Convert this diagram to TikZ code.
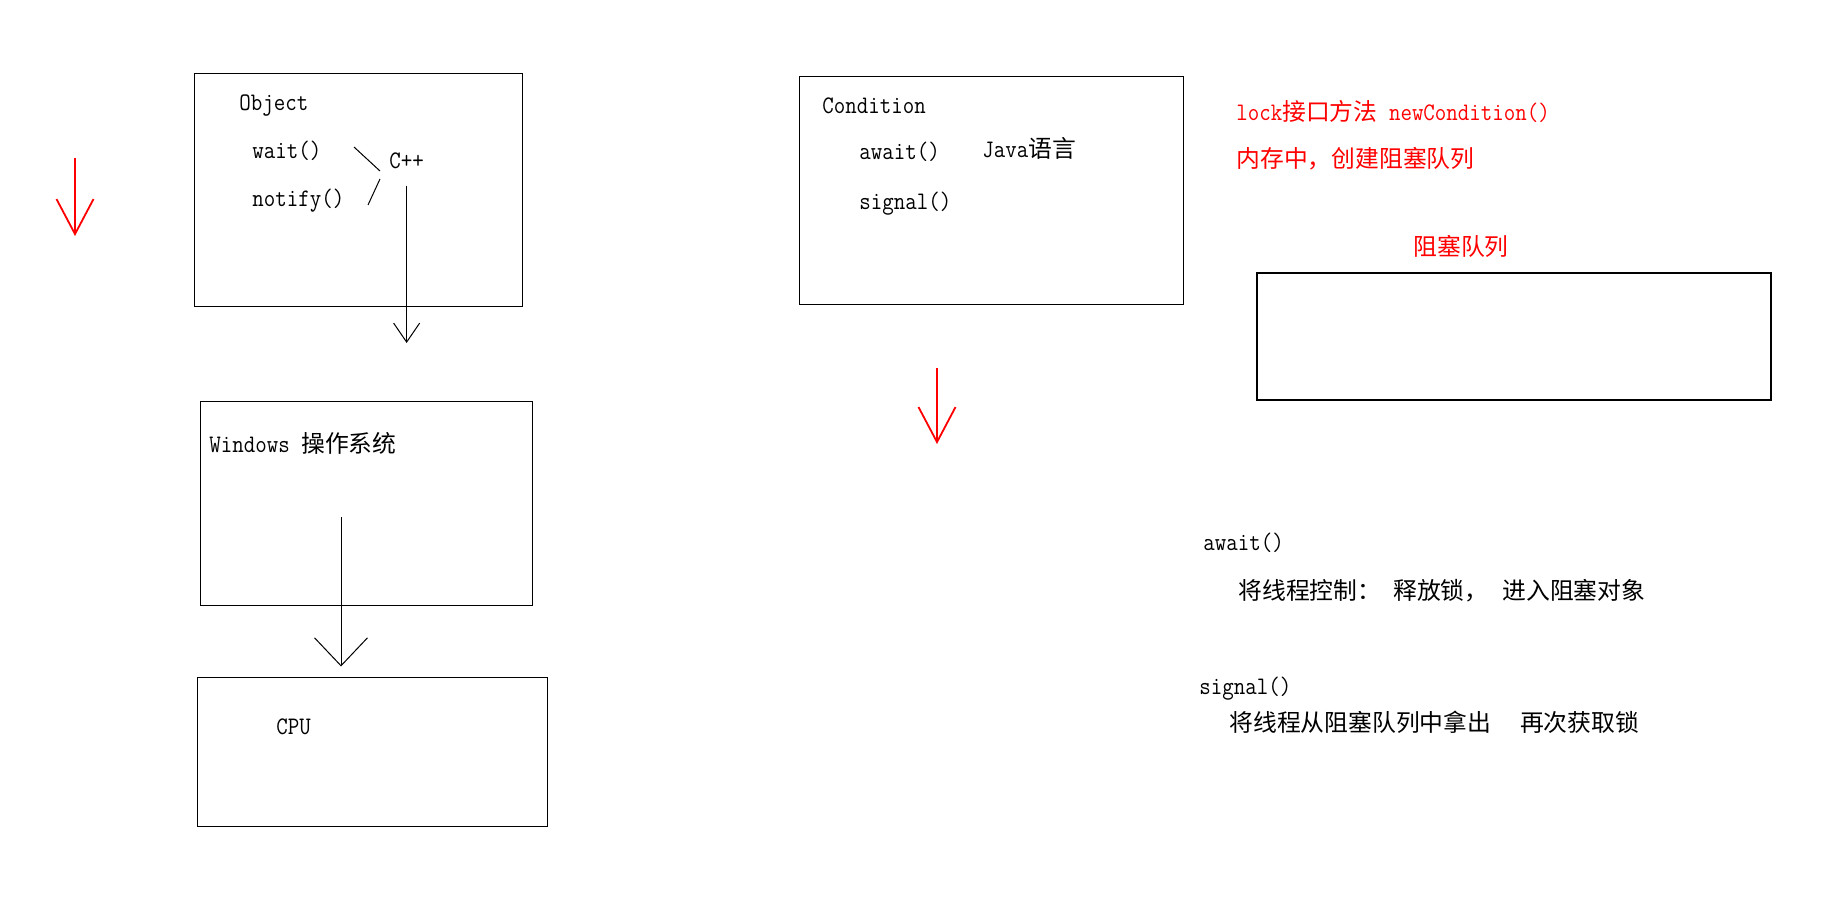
\documentclass[tikz,border=0pt]{standalone}
\usepackage{fontspec}
\setmainfont{Latin Modern Mono}[FakeStretch=0.885]
\newfontfamily\cjkfont{Noto Sans CJK SC}
\usepackage{tikz}
\usetikzlibrary{arrows.meta,positioning}
\definecolor{inkred}{RGB}{255,0,0}
\newcommand{\zh}[1]{{\fontsize{11.9}{14}\selectfont\cjkfont #1}}

\begin{document}
\begin{tikzpicture}[x=0.5pt, y=-0.5pt, font=\fontsize{12.6}{15}\selectfont,
  box/.style={draw, line width=0.5pt, inner sep=0pt},
  txt/.style={anchor=base west, inner sep=0pt},
  note/.style={txt, text=inkred},
  wire/.style={line width=0.5pt},
  redarrow/.style={draw=inkred, line width=0.9pt, -{Straight Barb[length=17.5pt,width=18.5pt]}}]
  \fill[white] (0,0) rectangle (1848,915);

  \node[box, minimum width=164pt, minimum height=116pt] (objbox) at (358,190) {};
  \node[txt] (objtitle) at (239,111) {Object};
  \node[txt] (wait) at (252,159) {wait()};
  \node[txt] (notify) at (252,206) {notify()};
  \node[txt] (cpp) at (389,169) {C++};

  \node[box, minimum width=166pt, minimum height=102pt] (osbox) at (366,503) {};
  \node[txt] (ostitle) at (209,452) {Windows \zh{操作系统}};

  \node[box, minimum width=175pt, minimum height=74.5pt] (cpubox) at (372,751.5) {};
  \node[txt] (cpu) at (276,734) {CPU};

  \node[box, minimum width=192pt, minimum height=113.5pt] (condbox) at (991,190.5) {};
  \node[txt] (condtitle) at (822,114) {Condition};
  \node[txt] (await) at (859,160) {await()};
  \node[txt] (java) at (982,158) {Java\zh{语言}};
  \node[txt] (signal) at (859,209) {signal()};

  \node[note] (locknote) at (1236,120) {lock\zh{接口方法} newCondition()};
  \node[note] (memnote) at (1236,168) {\zh{内存中，创建阻塞队列}};
  \node[note] (queuelabel) at (1413,255) {\zh{阻塞队列}};
  \node[box, line width=1.1pt, minimum width=257pt, minimum height=63.5pt] (queuebox) at (1514,336.5) {};

  \node[txt] (awaitnote) at (1203,550) {await()};
  \node[txt] (awaitdesc) at (1238,599) {\zh{将线程控制：\hspace{6pt}释放锁，\hspace{7pt}进入阻塞对象}};
  \node[txt] (signalnote) at (1199,694) {signal()};
  \node[txt] (signaldesc) at (1229,731) {\zh{将线程从阻塞队列中拿出\hspace{14.5pt}再次获取锁}};

  \coordinate (waitcut) at (354,147);
  \coordinate (waitjoin) at (380,171);
  \coordinate (notifyjoin) at (380,179);
  \coordinate (notifycut) at (368,205);
  \draw[wire] (waitcut) -- (waitjoin);
  \draw[wire] (notifyjoin) -- (notifycut);

  \coordinate (cppend) at (404,343);
  \draw[wire, -{Straight Barb[length=9.5pt,width=13pt]}] ([yshift=-8pt]cpp.south) -- (cpp.south |- cppend);
  \coordinate (osfrom) at (341,517);
  \draw[wire, -{Straight Barb[length=14pt,width=26.5pt]}] (osfrom) -- ([yshift=5pt]cpubox.north -| osfrom);

  \coordinate (leftstart) at (75,158);
  \coordinate (leftend) at (75,236);
  \draw[redarrow] (leftstart) -- (leftend);
  \coordinate (midstart) at (937,368);
  \coordinate (midend) at (937,444);
  \draw[redarrow] (midstart) -- (midend);
\end{tikzpicture}
\end{document}
